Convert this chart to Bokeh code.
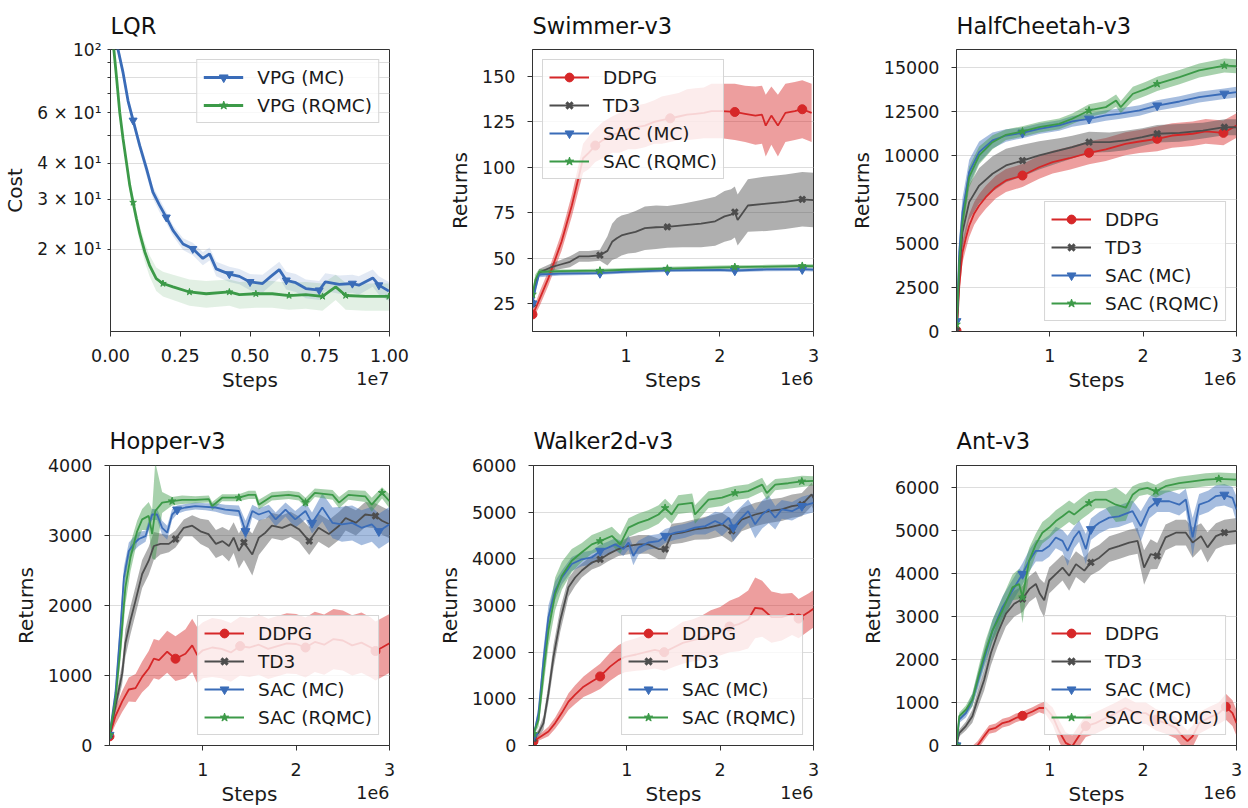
import numpy as np
from bokeh.plotting import figure
from bokeh.models import (Range1d, FixedTicker, CustomJSTickFormatter, PrintfTickFormatter,
                          Legend, LegendItem, LinearAxis)
from bokeh.layouts import row, column
from bokeh.embed import file_html
from bokeh.resources import INLINE

FONT = "DejaVu Sans"
C_DDPG = "#d62728"
C_TD3 = "#4d4d4d"
C_MC = "#3a6cb8"
C_RQ = "#3c9a48"

# ---------------- data (x in units of the axis multiplier) ----------------
LQR_MC_X = [0, 0.027, 0.045, 0.063, 0.081, 0.105, 0.129, 0.152, 0.176, 0.2, 0.224, 0.26, 0.295, 0.331, 0.355,
            0.379, 0.426, 0.462, 0.5, 0.545, 0.575, 0.605, 0.63, 0.664, 0.7, 0.748, 0.77, 0.82, 0.867, 0.89, 0.94,
            0.962, 0.998]
LQR_MC_Y = [115, 100, 83, 66, 56.5, 46, 38.3, 31.7, 28.5, 25.9, 23.3, 20.9, 20.1, 18.6, 19.3, 17.1, 16.4, 16.1,
            15.4, 15.2, 16.1, 17.0, 15.6, 15.3, 14.6, 14.4, 15.4, 15.1, 15.2, 15.0, 15.9, 15.0, 14.3]
LQR_MC_S = [4, 4, 3.5, 3, 2.5, 2, 2, 1.5, 1.5, 1.2, 1, 1, 1, 1, 1, 1, 1, 1, 1, 1.1, 1.1, 1.1, 1.1, 1.1, 1.1, 1.1,
            1.1, 1.1, 1.1, 1.1, 1.1, 1.1, 1.1]
LQR_RQ_X = [0, 0.012, 0.021, 0.033, 0.045, 0.057, 0.069, 0.081, 0.093, 0.105, 0.123, 0.14, 0.164, 0.188, 0.224,
            0.283, 0.343, 0.426, 0.462, 0.521, 0.58, 0.64, 0.7, 0.76, 0.807, 0.843, 0.914, 0.998]
LQR_RQ_Y = [105, 100, 81, 60.4, 48.7, 40.4, 33.5, 29.2, 25.6, 22.7, 19.6, 17.6, 15.8, 15.2, 14.8, 14.2, 14.0, 14.2,
            13.9, 14.0, 14.0, 13.8, 13.9, 13.7, 14.8, 13.8, 13.7, 13.7]
LQR_RQ_S = [3, 3, 3, 2.5, 2, 2, 1.8, 1.6, 1.5, 1.5, 1.5, 1.5, 1.5, 1.5, 1.5, 1.5, 1.5, 1.5, 1.5, 1.5, 1.5, 1.5,
            1.5, 1.5, 1.5, 1.5, 1.5, 1.5]
LQR_MARK_X = [0.085, 0.195, 0.3, 0.41, 0.52, 0.63, 0.745, 0.855, 0.965]
LQR_YTICKS = [20, 30, 40, 50, 60, 70, 80, 90, 100]
LQR_YLABELS = ["2 × 10¹", "3 × 10¹", "4 × 10¹", "", "6 × 10¹", "", "", "", "10²"]
LQR_XTICKS = [0, 0.25, 0.5, 0.75, 1.0]

SW_DDPG_X = [0, 0.03, 0.08, 0.17, 0.31, 0.42, 0.49, 0.54, 0.6, 0.67, 0.75, 0.85, 0.93, 1.02, 1.1, 1.2, 1.3, 1.38,
             1.47, 1.56, 1.65, 1.74, 1.83, 1.91, 2.02, 2.16, 2.27, 2.38, 2.45, 2.49, 2.55, 2.62, 2.7, 2.8, 2.88, 2.98]
SW_DDPG_Y = [19, 22, 28, 39, 59, 79, 94, 105, 108, 112, 115, 118, 119, 121, 122, 123, 125, 126, 127, 128, 129,
             129.5, 130, 131, 131, 130.5, 129.5, 128.5, 129, 123, 128.5, 123, 130, 131, 132, 130]
SW_DDPG_S = [3, 3, 4, 4, 5, 6, 7, 8, 9, 9, 10, 10, 11, 11, 12, 12, 12, 13, 13, 13, 14, 14, 14, 15, 15, 15.5, 15.5,
             16, 16, 17, 16, 17, 16, 16, 16, 16]
SW_TD3_X = [0, 0.03, 0.07, 0.2, 0.3, 0.4, 0.5, 0.6, 0.72, 0.8, 0.85, 0.9, 0.95, 1.02, 1.1, 1.2, 1.32, 1.44, 1.6,
            1.8, 1.95, 2.05, 2.12, 2.16, 2.19, 2.3, 2.5, 2.7, 2.88, 3.0]
SW_TD3_Y = [25, 35, 42, 45, 46.5, 48, 51, 51, 51.6, 54, 59, 61, 62.5, 63.5, 64.5, 66.5, 67, 67.2, 68, 69, 70.3,
            73, 74, 75.4, 71, 79, 80, 81, 82.4, 82]
SW_TD3_S = [2, 2, 2, 2, 2.5, 3, 3, 3, 3, 8, 10, 11, 11, 11, 11.5, 12, 12, 11.5, 12, 13, 13.5, 14, 14, 14, 14,
            14.5, 15, 15, 15, 15]
SW_MC_X = [0, 0.03, 0.07, 0.3, 0.72, 1.0, 1.44, 2.0, 2.16, 2.5, 2.88, 3.0]
SW_MC_Y = [25, 33, 41, 41.5, 41.8, 42.5, 43.3, 43.5, 43.2, 43.8, 43.9, 43.7]
SW_MC_S = [2, 3, 1.5, 1, 1, 1, 1, 1, 1, 1, 1, 1]
SW_RQ_X = [0, 0.03, 0.07, 0.3, 0.72, 1.0, 1.44, 2.0, 2.16, 2.5, 2.88, 3.0]
SW_RQ_Y = [30, 38, 42.5, 42.8, 43.1, 43.6, 44.2, 44.9, 45.1, 45.3, 45.7, 45.6]
SW_RQ_S = [2, 3, 1.5, 1, 1, 1, 1, 1, 1, 1, 1, 1]

HC_DDPG_X = [0, 0.01, 0.03, 0.064, 0.1, 0.136, 0.19, 0.243, 0.314, 0.42, 0.53, 0.707, 0.886, 1.03, 1.21, 1.42,
             1.6, 1.81, 1.96, 2.15, 2.31, 2.53, 2.67, 2.86, 3.0]
HC_DDPG_Y = [50, 600, 2600, 4500, 5300, 6000, 6700, 7150, 7620, 8190, 8570, 8850, 9320, 9610, 9830, 10140, 10330,
             10650, 10780, 10930, 11120, 11220, 11350, 11270, 11690]
HC_DDPG_S = [0, 300, 500, 600, 650, 650, 650, 650, 650, 650, 650, 650, 650, 650, 650, 650, 650, 650, 650, 700,
             700, 700, 700, 700, 700]
HC_TD3_X = [0, 0.01, 0.03, 0.064, 0.136, 0.243, 0.386, 0.53, 0.707, 0.886, 1.1, 1.24, 1.42, 1.64, 1.81, 1.99,
            2.15, 2.39, 2.64, 2.87, 3.0]
HC_TD3_Y = [50, 800, 3300, 5630, 7340, 8280, 8950, 9420, 9700, 9990, 10270, 10460, 10740, 10740, 10840, 11030,
            11220, 11270, 11400, 11590, 11590]
HC_TD3_S = [0, 400, 700, 900, 1000, 1000, 1000, 950, 900, 800, 700, 650, 600, 550, 550, 500, 500, 500, 450, 450, 450]
HC_MC_X = [0, 0.01, 0.029, 0.064, 0.136, 0.243, 0.386, 0.53, 0.707, 0.886, 1.1, 1.24, 1.42, 1.6, 1.74, 1.96,
           2.15, 2.39, 2.6, 2.87, 3.0]
HC_MC_Y = [580, 1500, 4500, 6770, 9040, 10180, 10840, 11120, 11270, 11500, 11690, 11920, 12070, 12260, 12350,
           12540, 12820, 13050, 13300, 13490, 13580]
HC_MC_S = [0, 600, 800, 800, 700, 600, 450, 350, 300, 300, 300, 300, 300, 300, 300, 300, 300, 300, 300, 300, 300]
HC_RQ_X = [0, 0.01, 0.029, 0.064, 0.136, 0.243, 0.386, 0.53, 0.707, 0.886, 1.1, 1.24, 1.42, 1.6, 1.71, 1.76,
           1.89, 2.03, 2.15, 2.39, 2.6, 2.87, 3.0]
HC_RQ_Y = [400, 1300, 3900, 6200, 8760, 9990, 10740, 11160, 11350, 11590, 11780, 12070, 12540, 12730, 13100,
           12730, 13490, 13770, 14050, 14430, 14810, 15090, 15050]
HC_RQ_S = [0, 500, 700, 700, 600, 500, 400, 300, 300, 300, 300, 300, 350, 350, 350, 350, 400, 400, 400, 400, 400,
           400, 400]

HO_DDPG_X = [0, 0.064, 0.136, 0.207, 0.279, 0.35, 0.42, 0.475, 0.53, 0.618, 0.707, 0.814, 0.886, 0.94, 1.0, 1.1,
             1.2, 1.3, 1.4, 1.5, 1.6, 1.7, 1.8, 1.9, 2.0, 2.1, 2.2, 2.3, 2.4, 2.5, 2.6, 2.7, 2.8, 2.85, 2.92, 3.0]
HO_DDPG_Y = [130, 420, 630, 800, 820, 980, 1100, 1240, 1220, 1340, 1240, 1310, 1430, 1290, 1360, 1400, 1380, 1330,
             1420, 1400, 1440, 1380, 1420, 1460, 1450, 1400, 1480, 1440, 1520, 1500, 1430, 1470, 1400, 1350, 1400,
             1460]
HO_DDPG_S = [30, 120, 150, 170, 200, 220, 250, 280, 280, 300, 320, 350, 380, 400, 400, 420, 420, 420, 420, 420,
             430, 430, 430, 430, 430, 430, 430, 430, 430, 430, 430, 430, 430, 420, 420, 420]
HO_TD3_X = [0, 0.064, 0.136, 0.17, 0.225, 0.279, 0.35, 0.42, 0.475, 0.546, 0.636, 0.707, 0.796, 0.886, 0.975, 1.06,
            1.14, 1.21, 1.28, 1.33, 1.386, 1.44, 1.53, 1.6, 1.67, 1.74, 1.85, 1.94, 2.03, 2.14, 2.24, 2.35, 2.46,
            2.53, 2.64, 2.74, 2.85, 2.92, 3.0]
HO_TD3_Y = [150, 560, 1030, 1460, 1790, 2070, 2450, 2640, 2850, 2880, 2880, 2950, 3110, 3140, 3060, 3020, 2880,
            2920, 2850, 2970, 2780, 2900, 2730, 2970, 3040, 3140, 3110, 3160, 3090, 2920, 3110, 3020, 3140, 3250,
            3180, 3300, 3280, 3210, 3160]
HO_TD3_S = [30, 100, 150, 200, 200, 200, 200, 200, 200, 150, 120, 120, 120, 150, 180, 200, 200, 200, 220, 220,
            250, 250, 300, 250, 200, 180, 180, 180, 180, 200, 200, 200, 200, 180, 180, 180, 180, 200, 200]
HO_MC_X = [0, 0.064, 0.118, 0.154, 0.207, 0.26, 0.314, 0.386, 0.457, 0.51, 0.564, 0.618, 0.671, 0.725, 0.814,
           0.92, 1.03, 1.136, 1.24, 1.386, 1.457, 1.53, 1.6, 1.707, 1.78, 1.886, 1.99, 2.1, 2.17, 2.28, 2.39, 2.49,
           2.6, 2.7, 2.81, 2.886, 3.0]
HO_MC_Y = [150, 750, 1690, 2400, 2780, 2880, 2950, 2990, 3300, 3300, 3110, 3040, 3300, 3370, 3400, 3420, 3410,
           3400, 3370, 3350, 3060, 3350, 3300, 3350, 3230, 3370, 3230, 3350, 3180, 3400, 3180, 3160, 3180, 3110,
           3160, 3060, 3160]
HO_MC_S = [30, 100, 150, 150, 120, 100, 100, 80, 80, 80, 100, 100, 80, 60, 50, 50, 50, 60, 70, 80, 150, 90, 90,
           90, 100, 100, 120, 120, 150, 200, 220, 250, 250, 250, 250, 250, 250]
HO_RQ_X = [0, 0.064, 0.118, 0.17, 0.225, 0.296, 0.35, 0.42, 0.457, 0.49, 0.564, 0.671, 0.778, 0.92, 1.064, 1.1,
           1.207, 1.386, 1.49, 1.564, 1.6, 1.74, 1.92, 2.03, 2.1, 2.2, 2.39, 2.46, 2.56, 2.74, 2.81, 2.92, 3.0]
HO_RQ_Y = [150, 650, 1410, 2260, 2690, 3060, 3230, 3280, 3020, 3350, 3470, 3490, 3510, 3510, 3520, 3420, 3540,
           3540, 3580, 3580, 3440, 3560, 3580, 3560, 3470, 3610, 3580, 3470, 3580, 3560, 3440, 3610, 3490]
HO_RQ_S = [30, 100, 200, 250, 200, 150, 150, 200, 350, 700, 150, 60, 60, 50, 50, 60, 50, 50, 60, 60, 70, 60, 60,
           60, 70, 60, 70, 80, 70, 80, 100, 80, 100]

WA_DDPG_X = [0, 0.054, 0.16, 0.232, 0.304, 0.375, 0.446, 0.536, 0.625, 0.714, 0.82, 0.91, 0.98, 1.1, 1.2, 1.3,
             1.4, 1.5, 1.6, 1.7, 1.8, 1.9, 2.0, 2.1, 2.2, 2.3, 2.375, 2.45, 2.55, 2.66, 2.77, 2.84, 2.95, 3.0]
WA_DDPG_Y = [90, 160, 300, 480, 700, 940, 1090, 1260, 1370, 1480, 1690, 1830, 1900, 1950, 2000, 2050, 2000, 2100,
             2200, 2250, 2300, 2400, 2450, 2550, 2600, 2700, 2950, 2930, 2750, 2750, 2820, 2720, 2860, 2930]
WA_DDPG_S = [30, 60, 100, 120, 150, 180, 200, 220, 250, 270, 300, 320, 330, 350, 380, 400, 400, 420, 450, 450,
             480, 500, 520, 550, 580, 620, 650, 600, 550, 500, 450, 420, 400, 400]
WA_TD3_X = [0, 0.054, 0.107, 0.16, 0.214, 0.286, 0.375, 0.446, 0.518, 0.625, 0.714, 0.8, 0.91, 1.018, 1.125, 1.23,
            1.34, 1.41, 1.48, 1.59, 1.73, 1.875, 2.02, 2.125, 2.23, 2.375, 2.52, 2.66, 2.77, 2.875, 2.98, 3.0]
WA_TD3_Y = [150, 270, 480, 1120, 1900, 2680, 3390, 3600, 3750, 3920, 3990, 4100, 4210, 4280, 4310, 4310, 4210,
            4210, 4530, 4560, 4630, 4670, 4740, 4600, 4840, 4950, 5020, 5060, 5130, 5160, 5380, 5300]
WA_TD3_S = [50, 80, 150, 200, 250, 250, 200, 180, 150, 150, 150, 150, 150, 180, 200, 200, 220, 220, 220, 220,
            220, 250, 250, 250, 250, 250, 250, 250, 250, 250, 250, 250]
WA_MC_X = [0, 0.054, 0.107, 0.16, 0.232, 0.304, 0.41, 0.518, 0.625, 0.714, 0.8, 0.875, 0.964, 1.018, 1.07, 1.125,
           1.23, 1.34, 1.41, 1.52, 1.625, 1.73, 1.84, 1.946, 2.02, 2.09, 2.14, 2.23, 2.3, 2.375, 2.45, 2.52, 2.59,
           2.66, 2.77, 2.875, 3.0]
WA_MC_Y = [200, 700, 1830, 2750, 3320, 3600, 3890, 3990, 4030, 4170, 4240, 4310, 4210, 4350, 4060, 4240, 4350,
           4380, 4490, 4560, 4600, 4670, 4700, 4810, 4740, 4880, 4670, 4880, 5020, 4740, 4950, 5060, 4880, 5060,
           5020, 5130, 5200]
WA_MC_S = [50, 150, 250, 250, 200, 150, 150, 150, 150, 130, 130, 130, 150, 150, 200, 150, 150, 150, 150, 150, 150,
           150, 180, 200, 250, 250, 300, 250, 250, 300, 300, 300, 250, 200, 200, 200, 200]
WA_RQ_X = [0, 0.054, 0.107, 0.16, 0.232, 0.304, 0.41, 0.518, 0.625, 0.714, 0.84, 0.93, 1.018, 1.125, 1.23, 1.34,
           1.41, 1.48, 1.55, 1.7, 1.73, 1.875, 2.02, 2.16, 2.3, 2.45, 2.5, 2.59, 2.73, 2.875, 3.0]
WA_RQ_Y = [250, 550, 1550, 2470, 3250, 3640, 3960, 4140, 4310, 4380, 4490, 4310, 4670, 4770, 4840, 4950, 5090,
           4950, 5160, 5200, 4950, 5270, 5310, 5410, 5450, 5590, 5410, 5590, 5620, 5660, 5670]
WA_RQ_S = [50, 150, 300, 350, 350, 300, 250, 200, 200, 200, 200, 200, 200, 200, 200, 200, 200, 200, 200, 200, 200,
           180, 180, 150, 150, 150, 150, 120, 120, 120, 100]

AN_DDPG_X = [0, 0.15, 0.225, 0.296, 0.35, 0.42, 0.493, 0.564, 0.636, 0.707, 0.814, 0.886, 0.957, 1.03, 1.1, 1.17,
             1.24, 1.31, 1.386, 1.49, 1.6, 1.707, 1.81, 1.92, 2.03, 2.136, 2.24, 2.35, 2.42, 2.475, 2.53, 2.6, 2.7,
             2.81, 2.886, 2.957, 3.0]
AN_DDPG_Y = [-300, -150, 0, 215, 370, 410, 520, 560, 640, 690, 790, 870, 870, 680, 330, 60, -20, 215, 450, 520,
             640, 750, 870, 750, 750, 600, 520, 410, 215, 100, 215, 520, 640, 750, 900, 750, 520]
AN_DDPG_S = [100, 100, 100, 100, 100, 100, 100, 100, 100, 100, 100, 100, 150, 200, 250, 250, 250, 250, 250, 250,
             250, 250, 250, 250, 250, 250, 250, 250, 250, 250, 250, 250, 250, 250, 300, 300, 300]
AN_TD3_X = [0, 0.029, 0.1, 0.17, 0.225, 0.296, 0.368, 0.44, 0.53, 0.618, 0.707, 0.779, 0.85, 0.893, 0.94, 0.993,
            1.064, 1.136, 1.207, 1.28, 1.37, 1.44, 1.53, 1.636, 1.74, 1.85, 1.94, 2.01, 2.08, 2.15, 2.24, 2.35,
            2.457, 2.53, 2.62, 2.69, 2.78, 2.87, 3.0]
AN_TD3_Y = [0, 290, 450, 680, 1060, 1520, 2140, 2600, 3060, 3290, 3400, 3630, 3750, 3520, 3370, 3830, 3980, 4130,
            3940, 4210, 4060, 4250, 4360, 4560, 4630, 4710, 4750, 4130, 4440, 4400, 4830, 4940, 4940, 4710, 4860,
            4600, 4860, 4940, 4980]
AN_TD3_S = [0, 80, 100, 150, 200, 250, 280, 300, 300, 300, 300, 300, 300, 350, 400, 300, 300, 300, 350, 300, 300,
            300, 300, 300, 300, 300, 300, 400, 350, 300, 300, 300, 300, 350, 300, 350, 300, 300, 300]
AN_MC_X = [0, 0.029, 0.1, 0.17, 0.243, 0.314, 0.386, 0.493, 0.6, 0.707, 0.779, 0.85, 0.92, 0.993, 1.064, 1.136,
           1.19, 1.26, 1.314, 1.386, 1.44, 1.53, 1.636, 1.74, 1.886, 1.975, 2.064, 2.15, 2.28, 2.386, 2.457, 2.53,
           2.6, 2.7, 2.78, 2.87, 2.957, 3.0]
AN_MC_Y = [0, 600, 750, 1060, 1600, 2140, 2670, 3210, 3600, 3980, 4290, 4520, 4520, 4630, 4830, 4750, 4520, 4830,
           4980, 4560, 5020, 5170, 5290, 5320, 5440, 5090, 5520, 5670, 5670, 5590, 5710, 4830, 5590, 5670, 5790,
           5820, 5750, 5480]
AN_MC_S = [0, 80, 100, 150, 200, 220, 250, 250, 250, 250, 250, 250, 250, 250, 250, 250, 350, 250, 250, 350, 250,
           250, 250, 250, 250, 350, 250, 250, 250, 250, 250, 450, 250, 250, 250, 250, 250, 300]
AN_RQ_X = [0, 0.029, 0.1, 0.17, 0.243, 0.314, 0.386, 0.493, 0.6, 0.671, 0.707, 0.779, 0.85, 0.92, 0.993, 1.064,
           1.136, 1.207, 1.26, 1.35, 1.42, 1.49, 1.6, 1.707, 1.814, 1.886, 1.957, 2.046, 2.136, 2.24, 2.386, 2.53,
           2.67, 2.81, 3.0]
AN_RQ_Y = [0, 680, 830, 1060, 1680, 2210, 2670, 3140, 3670, 3750, 3440, 4290, 4670, 4940, 5060, 5210, 5320, 5440,
           5360, 5520, 5630, 5710, 5710, 5590, 5520, 5820, 5940, 5980, 5900, 6020, 6090, 6130, 6170, 6190, 6170]
AN_RQ_S = [0, 80, 100, 150, 200, 250, 250, 300, 300, 350, 600, 300, 250, 250, 250, 250, 250, 250, 250, 250, 250,
           200, 200, 400, 300, 200, 150, 150, 150, 150, 150, 150, 150, 150, 150]

MARK_X = [0, 0.71, 1.43, 2.15, 2.87]
STEP_TICKS = [1, 2, 3]
NAMES = ["DDPG", "TD3", "SAC (MC)", "SAC (RQMC)"]

COL_W = 416
ROW1_H = 400
ROW2_H = 408
TICK_FS = "17.5px"
LAB_FS = "20px"
LEG_FS = "18.5px"


def make_fig(title, w, h, left, right, top, bottom, xr, yr, ylabel, log=False, title_valign="bottom",
             title_standoff=23):
    p = figure(width=w, height=h, x_range=Range1d(*xr), y_range=Range1d(*yr),
               y_axis_type="log" if log else "linear", output_backend="svg", toolbar_location=None,
               min_border_left=left, min_border_right=right, min_border_top=top, min_border_bottom=bottom)
    p.title.text = title
    p.title.text_font = FONT
    p.title.text_font_size = "22.5px"
    p.title.text_font_style = "normal"
    p.title.text_color = "#111111"
    p.title.align = "left"
    p.title.vertical_align = title_valign
    p.title.standoff = title_standoff
    p.background_fill_color = "white"
    p.border_fill_color = "white"
    p.outline_line_color = "#333333"
    p.outline_line_width = 1
    p.xgrid.visible = False
    p.ygrid.grid_line_color = "#dddddd"
    p.ygrid.grid_line_width = 1
    for ax in (p.xaxis[0], p.yaxis[0]):
        ax.major_label_text_font = FONT
        ax.major_label_text_font_size = TICK_FS
        ax.major_label_text_color = "#1a1a1a"
        ax.axis_label_text_font = FONT
        ax.axis_label_text_font_size = LAB_FS
        ax.axis_label_text_font_style = "normal"
        ax.axis_label_text_color = "#1a1a1a"
        ax.axis_line_color = "#333333"
        ax.major_tick_line_color = "#333333"
        ax.minor_tick_line_color = None
        ax.major_tick_in = 0
        ax.major_tick_out = 5
    p.xaxis.axis_label = "Steps"
    p.xaxis.major_label_standoff = 12
    p.xaxis.axis_label_standoff = 3
    p.yaxis.axis_label = ylabel
    p.yaxis.major_label_standoff = 12
    p.yaxis.axis_label_standoff = 7
    return p


def mult_label(p, text, xr, frame_w):
    # offset-multiplier text ("1e6"), right-aligned at the end of the x axis, on the "Steps" line
    half_w_px = 16.7
    xpos = xr[1] - half_w_px / frame_w * (xr[1] - xr[0])
    ax = LinearAxis(ticker=FixedTicker(ticks=[xpos]),
                    formatter=CustomJSTickFormatter(args=dict(txt=text), code="return txt;"),
                    major_tick_line_color=None, minor_tick_line_color=None, axis_line_color=None,
                    major_label_standoff=-29, major_label_text_font=FONT, major_label_text_font_size=TICK_FS,
                    major_label_text_color="#1a1a1a")
    p.add_layout(ax, "below")


def draw(p, series, lw, band_alpha, mark_x):
    items = []
    for (xs, ys, ss, color, marker, msize, name) in series:
        xs = np.asarray(xs, float); ys = np.asarray(ys, float); ss = np.asarray(ss, float)
        p.varea(x=xs, y1=ys - ss, y2=ys + ss, fill_color=color, fill_alpha=band_alpha)
    for (xs, ys, ss, color, marker, msize, name) in series:
        xs = np.asarray(xs, float); ys = np.asarray(ys, float)
        ln = p.line(xs, ys, line_color=color, line_width=lw)
        idx = sorted(set(int(np.argmin(np.abs(xs - m))) for m in mark_x))
        if marker == "x":
            sc = p.scatter(xs[idx], ys[idx], marker="x", size=msize, line_color=color, line_width=3)
        else:
            sc = p.scatter(xs[idx], ys[idx], marker=marker, size=msize, fill_color=color, line_color=color)
        items.append(LegendItem(label=name, renderers=[ln, sc]))
    return items


def add_legend(p, items, loc):
    leg = Legend(items=items, location=loc, margin=10, padding=6, spacing=6, glyph_width=40, glyph_height=22,
                 label_height=22, label_standoff=14, label_text_font=FONT, label_text_font_size=LEG_FS,
                 label_text_color="#1a1a1a", background_fill_color="white", background_fill_alpha=0.8,
                 border_line_color="#cccccc", border_line_alpha=0.8, border_line_width=1)
    p.add_layout(leg)


def mujoco(title, w, h, left, right, top, bottom, yr, data, yticks, loc, tva, tso):
    xr = (0, 3.0)
    p = make_fig(title, w, h, left, right, top, bottom, xr, yr, "Returns", title_valign=tva, title_standoff=tso)
    p.xaxis.ticker = FixedTicker(ticks=STEP_TICKS)
    p.yaxis.ticker = FixedTicker(ticks=yticks)
    colors = [C_DDPG, C_TD3, C_MC, C_RQ]
    markers = [("circle", 9), ("x", 8), ("inverted_triangle", 9), ("star", 8)]
    series = []
    for (xs, ys, ss), c, (mk, ms), nm in zip(data, colors, markers, NAMES):
        series.append((xs, ys, ss, c, mk, ms, nm))
    items = draw(p, series, 1.8, 0.45, MARK_X)
    add_legend(p, items, loc)
    mult_label(p, "1e6", xr, w - left - right)
    return p


lqr_xr = (0, 1.0)
lqr_yr = (10.33, 100)
p1 = make_fig("LQR", COL_W, ROW1_H, 109, 27, 49, 69, lqr_xr, lqr_yr, "Cost", log=True,
              title_valign="top", title_standoff=17)
p1.yaxis.ticker = FixedTicker(ticks=LQR_YTICKS)
p1.yaxis.formatter = CustomJSTickFormatter(args=dict(vals=LQR_YTICKS, labs=LQR_YLABELS), code="""
const i = vals.findIndex(v => Math.abs(v - tick) < 1e-6 * v);
return i >= 0 ? labs[i] : "";
""")
p1.yaxis.major_tick_out = 3
p1.yaxis.major_label_standoff = 6
p1.yaxis.major_label_text_font_size = "17px"
p1.xaxis.ticker = FixedTicker(ticks=LQR_XTICKS)
p1.xaxis.formatter = PrintfTickFormatter(format="%.2f")
lqr_items = draw(p1, [(LQR_MC_X, LQR_MC_Y, LQR_MC_S, C_MC, "inverted_triangle", 8, "VPG (MC)"),
                      (LQR_RQ_X, LQR_RQ_Y, LQR_RQ_S, C_RQ, "star", 7, "VPG (RQMC)")],
                 2.8, 0.15, LQR_MARK_X)
add_legend(p1, lqr_items, "top_right")
mult_label(p1, "1e7", lqr_xr, 280)

p2 = mujoco("Swimmer-v3", COL_W, ROW1_H, 116, 19, 49, 69, (9.6, 164.9),
            [(SW_DDPG_X, SW_DDPG_Y, SW_DDPG_S), (SW_TD3_X, SW_TD3_Y, SW_TD3_S),
             (SW_MC_X, SW_MC_Y, SW_MC_S), (SW_RQ_X, SW_RQ_Y, SW_RQ_S)],
            [25, 50, 75, 100, 125, 150], "top_left", "top", 17)
p3 = mujoco("HalfCheetah-v3", COL_W, ROW1_H, 124, 12, 49, 69, (0, 16000),
            [(HC_DDPG_X, HC_DDPG_Y, HC_DDPG_S), (HC_TD3_X, HC_TD3_Y, HC_TD3_S),
             (HC_MC_X, HC_MC_Y, HC_MC_S), (HC_RQ_X, HC_RQ_Y, HC_RQ_S)],
            [0, 2500, 5000, 7500, 10000, 12500, 15000], "bottom_right", "top", 17)
p4 = mujoco("Hopper-v3", COL_W, ROW2_H, 109, 27, 65, 61, (0, 4000),
            [(HO_DDPG_X, HO_DDPG_Y, HO_DDPG_S), (HO_TD3_X, HO_TD3_Y, HO_TD3_S),
             (HO_MC_X, HO_MC_Y, HO_MC_S), (HO_RQ_X, HO_RQ_Y, HO_RQ_S)],
            [0, 1000, 2000, 3000, 4000], "bottom_right", "bottom", 23)
p5 = mujoco("Walker2d-v3", COL_W, ROW2_H, 117, 19, 65, 61, (0, 6000),
            [(WA_DDPG_X, WA_DDPG_Y, WA_DDPG_S), (WA_TD3_X, WA_TD3_Y, WA_TD3_S),
             (WA_MC_X, WA_MC_Y, WA_MC_S), (WA_RQ_X, WA_RQ_Y, WA_RQ_S)],
            [0, 1000, 2000, 3000, 4000, 5000, 6000], "bottom_right", "bottom", 23)
p6 = mujoco("Ant-v3", COL_W, ROW2_H, 124, 12, 65, 61, (0, 6500),
            [(AN_DDPG_X, AN_DDPG_Y, AN_DDPG_S), (AN_TD3_X, AN_TD3_Y, AN_TD3_S),
             (AN_MC_X, AN_MC_Y, AN_MC_S), (AN_RQ_X, AN_RQ_Y, AN_RQ_S)],
            [0, 1000, 2000, 3000, 4000, 5000, 6000], "bottom_right", "bottom", 23)

layout = column(row(p1, p2, p3), row(p4, p5, p6))
open("out.html", "w").write(file_html(layout, INLINE))
